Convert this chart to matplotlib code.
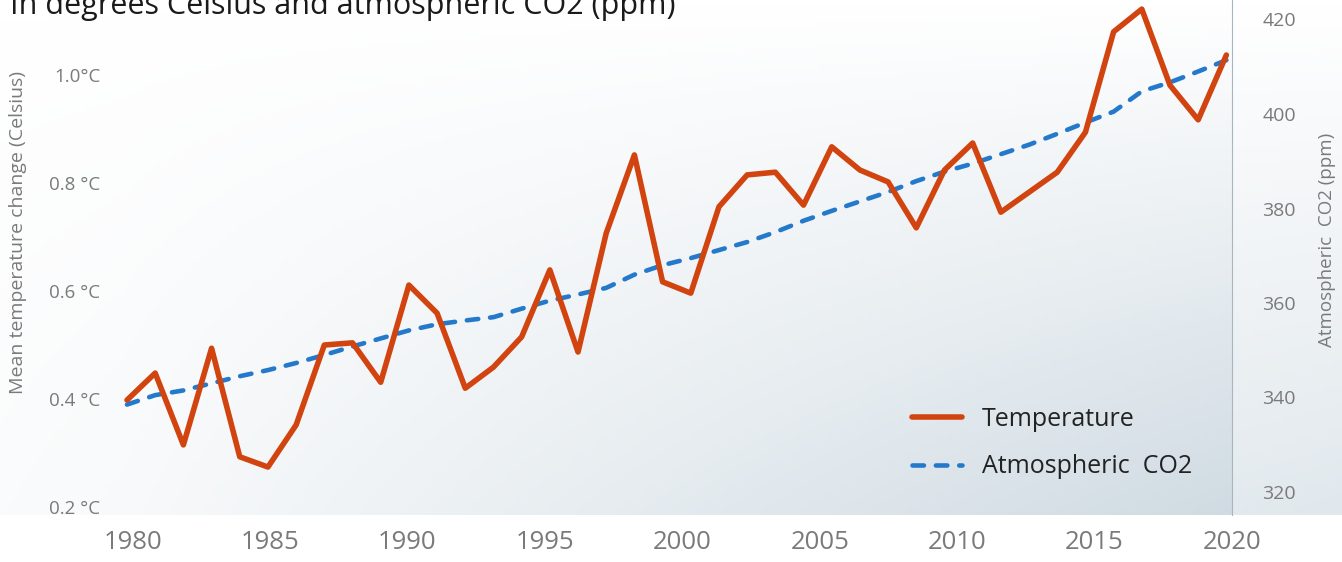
import numpy as np
import matplotlib
matplotlib.use("Agg")
import matplotlib.pyplot as plt
from matplotlib.colors import LinearSegmentedColormap

# data (1980..2019, one point per year)
years = np.arange(1980, 2020)
temp = [0.398, 0.448, 0.315, 0.494, 0.293, 0.274, 0.352, 0.500, 0.504, 0.431,
        0.611, 0.559, 0.420, 0.459, 0.515, 0.639, 0.487, 0.707, 0.852, 0.617,
        0.596, 0.756, 0.815, 0.820, 0.759, 0.867, 0.824, 0.802, 0.717, 0.824,
        0.874, 0.746, 0.783, 0.820, 0.894, 1.080, 1.122, 0.981, 0.917, 1.037]
co2 = [338.5, 340.5, 341.5, 343.0, 344.5, 345.8, 347.3, 349.0, 350.8, 352.5,
       354.2, 355.5, 356.3, 357.0, 358.8, 360.5, 361.8, 363.2, 366.0, 368.0,
       369.5, 371.2, 372.9, 375.0, 377.4, 379.5, 381.5, 383.5, 385.8, 387.8,
       389.5, 391.5, 393.5, 395.8, 398.2, 400.5, 404.8, 406.7, 409.0, 411.4]
xtick_labels = ["1980", "1985", "1990", "1995", "2000", "2005", "2010", "2015", "2020"]
temp_ticks = [0.2, 0.4, 0.6, 0.8, 1.0]
temp_tick_labels = ["0.2 °C", "0.4 °C", "0.6 °C", "0.8 °C", "1.0°C"]
co2_ticks = [320, 340, 360, 380, 400, 420]

C_TEMP, C_CO2 = "#d2440f", "#2479cb"
GREY = "#7a7a7a"
plt.rcParams["font.family"] = ["Open Sans", "DejaVu Sans"]

W, H = 1342, 562
fig = plt.figure(figsize=(W/100, H/100), dpi=100)
gx, gy = np.meshgrid(np.linspace(0, 1, 300), np.linspace(0, 1, 120))
cmap = LinearSegmentedColormap.from_list("bg", ["#ffffff", "#cdd9e1"])

# soft background gradient (figure level, stops above the year labels)
bg = fig.add_axes([0, 47/H, 1, 1-47/H], zorder=-3)
bg.imshow(0.5*gx*gy + 0.1*gy, cmap=cmap, vmin=0, vmax=1, aspect="auto",
          origin="upper", extent=[0, 1, 0, 1])
bg.set_axis_off()

rect = [127/W, 47/H, (1232-127)/W, 1-47/H]
pbg = fig.add_axes(rect, zorder=-2)
pbg.imshow(0.8*gx*gy + 0.15*gy, cmap=cmap, vmin=0, vmax=1, aspect="auto",
           origin="upper", extent=[0, 1, 0, 1])
pbg.set_axis_off()

ax = fig.add_axes(rect)
ax2 = ax.twinx()
ax.set_zorder(ax2.get_zorder()+1)
ax.patch.set_visible(False)
ax2.patch.set_visible(False)

ax.plot(years, temp, "-", color=C_TEMP, lw=4.0, solid_joinstyle="round",
        solid_capstyle="round", label="Temperature", zorder=5, clip_on=False)
ax2.plot(years, co2, color=C_CO2, lw=3.3, dashes=(2.5, 2.6), dash_capstyle="round",
         label="Atmospheric  CO2", zorder=4, clip_on=False)

ax.set_xlim(1980, 2019)
ax.set_ylim(0.2 - 8/540, 0.2 + 507/540)
ax2.set_ylim(320 - 23/4.725, 320 + 492/4.725)

ax.set_xticks(np.linspace(1980.2, 2019.2, len(xtick_labels)))
ax.set_xticklabels(xtick_labels)
ax.set_yticks(temp_ticks)
ax.set_yticklabels(temp_tick_labels)
ax2.set_yticks(co2_ticks)
ax.tick_params(axis="x", length=0, pad=11, labelsize=18.5, labelcolor=GREY)
ax.tick_params(axis="y", length=0, pad=19, labelsize=13.5, labelcolor=GREY)
ax2.tick_params(axis="y", length=0, pad=22, labelsize=14, labelcolor=GREY)

for a in (ax, ax2):
    for s in a.spines.values():
        s.set_visible(False)
ax2.spines["right"].set_visible(True)
ax2.spines["right"].set_color("#aab6bf")
ax2.spines["right"].set_linewidth(0.8)

fig.text(18/W, 1-232/H, "Mean temperature change (Celsius)", rotation=90,
         ha="center", va="center", fontsize=14, color=GREY)
fig.text(1327/W, 1-240/H, "Atmospheric  CO2 (ppm)", rotation=90,
         ha="center", va="center", fontsize=13.5, color=GREY)
fig.text(10/W, 1-14/H, "In degrees Celsius and atmospheric CO2 (ppm)",
         ha="left", va="baseline", fontsize=22, color="#1a1a1a")

h1, l1 = ax.get_legend_handles_labels()
h2, l2 = ax2.get_legend_handles_labels()
fig.legend(h1+h2, l1+l2, loc="center left", bbox_to_anchor=(912/W, 1-443/H),
           frameon=False, fontsize=18, handlelength=2.0, handletextpad=0.8,
           labelspacing=0.9, borderpad=0, borderaxespad=0, labelcolor="#222222")

fig.savefig("out.png", dpi=100)
